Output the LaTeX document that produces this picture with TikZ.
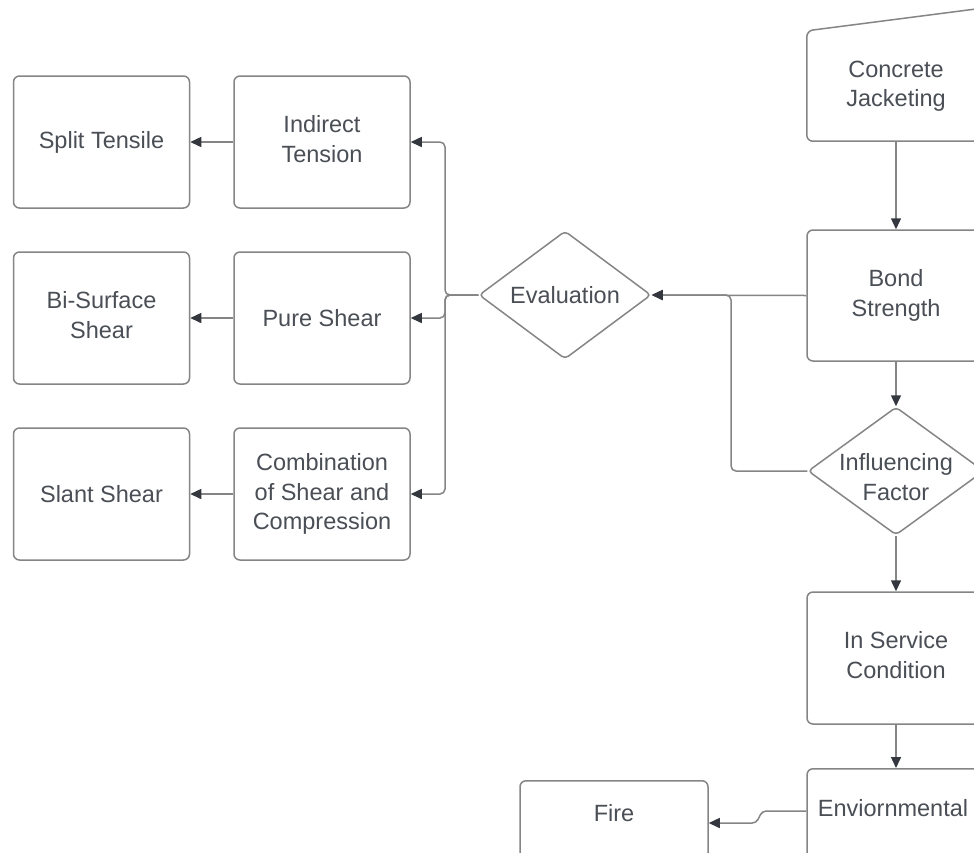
\documentclass[tikz,border=0pt]{standalone}
\usepackage{fontspec}
\setmainfont{Liberation Sans}
\usetikzlibrary{arrows.meta,shapes.geometric,calc}
\definecolor{linec}{HTML}{858585}
\definecolor{txtc}{HTML}{4A4E55}
\definecolor{tipc}{HTML}{34383E}
\tikzset{
  lbl/.style={align=center, text=txtc, font=\fontsize{23.5}{29.5}\selectfont, inner sep=0pt},
  box/.style={lbl, draw=linec, line width=1.5pt, rounded corners=6pt, minimum width=176pt, minimum height=132pt},
  dia/.style={diamond, draw=linec, line width=1.5pt, rounded corners=4pt, inner sep=0pt},
  conn/.style={draw=linec, line width=1.5pt, rounded corners=5pt, -{Triangle[length=11pt,width=10pt,color=tipc]}},
}
\begin{document}
\begin{tikzpicture}[x=1pt,y=-1pt]
\useasboundingbox (0,0) rectangle (974,852);
\fill[white] (0,0) rectangle (974,852);
\clip (0,0) rectangle (974,852);

% left column
\node[box] (st)  at (101.5,142) {Split Tensile};
\node[box, text depth=6pt] (bss) at (101.5,318) {Bi-Surface\\Shear};
\node[box] (sl)  at (101.5,494) {Slant Shear};
% middle column
\node[box, text depth=6pt] (it) at (322,142) {Indirect\\Tension};
\node[box] (ps) at (322,318) {Pure Shear};
\node[box] (cs) at (322,494) {Combination\\of Shear and\\Compression};
% evaluation
\node[dia, minimum width=172pt, minimum height=128pt] (ev) at (565,295) {};
\node[lbl] (evt) at (ev) {Evaluation};
% right column
\node[lbl, minimum width=178pt, minimum height=110pt] (cj) at (896,86) {Concrete\\Jacketing};
\draw[draw=linec, line width=1.5pt, rounded corners=6pt]
  (cj.south west) -- (cj.north west) -- ([yshift=23pt]cj.north east) -- (cj.south east) -- cycle;
\node[box, minimum width=178pt, minimum height=131pt] (bs) at (896,295.5) {Bond\\Strength};
\node[dia, minimum width=176pt, minimum height=128pt] (if) at (896,471) {};
\node[lbl] (ift) at (896,477) {Influencing\\Factor};
\node[box, minimum width=178pt, text depth=6pt] (isc) at (896,658) {In Service\\Condition};
\node[box, minimum width=178pt, minimum height=140pt, anchor=north] (env) at (896,768) {};
\node[lbl] (envt) at (893,808) {Enviornmental};
\node[box, minimum width=188pt, minimum height=140pt, anchor=north] (fire) at (614,780) {};
\node[lbl] (firet) at (614,813) {Fire};

% connectors
\coordinate (tr) at (445,295);
\coordinate (jx) at (731,295);
\draw[conn] (cj.south) -- (bs.north);
\draw[conn] (bs.west) -- (ev.east);
\draw[conn] (if.west) -| (jx) -- (ev.east);
\draw[conn] (bs.south) -- (if.north);
\draw[conn] (if.south) -- (isc.north);
\draw[conn] (isc.south) -- (env.north);
\draw[conn, rounded corners=4pt] ([yshift=-43pt]env.north west) -- ++(-44,0) -- ++(-6,12) -- ([yshift=-43pt]fire.north east);
\draw[conn] (ev.west) -- (tr) |- (it.east);
\draw[conn] (ev.west) -- (tr) |- (ps.east);
\draw[conn] (ev.west) -- (tr) |- (cs.east);
\draw[conn] (it.west) -- (st.east);
\draw[conn] (ps.west) -- (bss.east);
\draw[conn] (cs.west) -- (sl.east);
\end{tikzpicture}
\end{document}
